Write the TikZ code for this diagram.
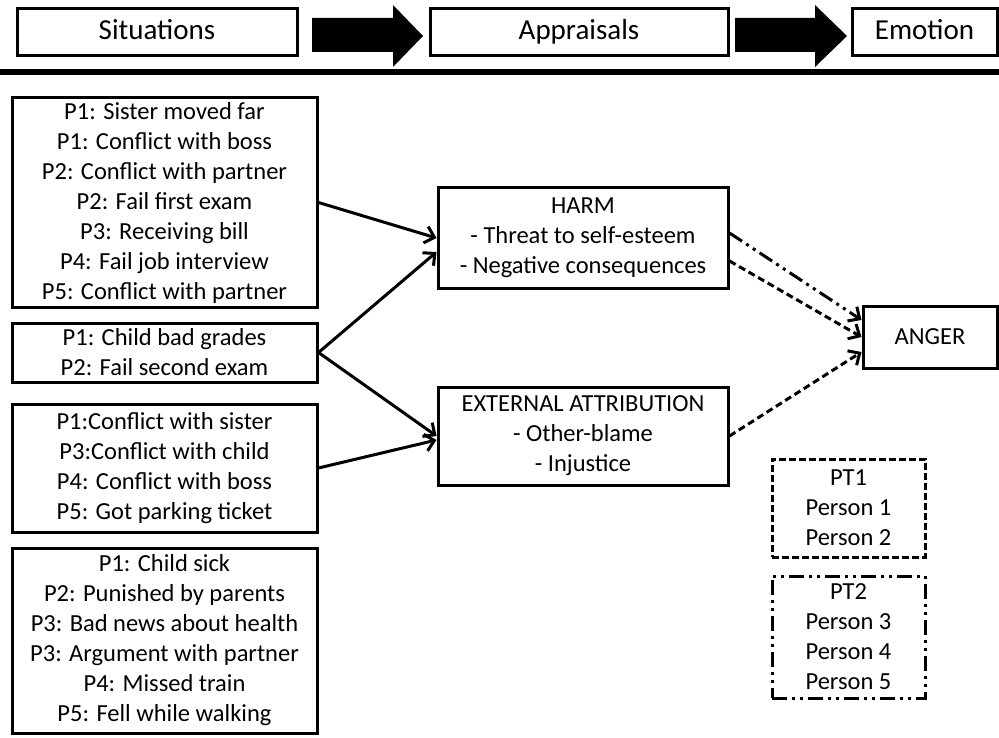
\documentclass[tikz,border=0pt]{standalone}
\usepackage{fontspec}
\setmainfont{Carlito}
\usetikzlibrary{arrows.meta}

\tikzset{
	box/.style = {draw, line width = 3pt, inner sep = 0pt, align = center, font = \fontsize{24.5}{30}\selectfont},
	headbox/.style = {draw, line width = 3pt, inner sep = 0pt, font = \fontsize{29}{34}\selectfont, text height = 22pt, text depth = 6pt},
	link/.style = {line width = 3pt, -{Straight Barb[length = 9pt, width = 17pt]}},
	dashlink/.style = {link, dash pattern = on 7pt off 4pt},
	dotlink/.style = {link, dash pattern = on 15pt off 5pt on 3pt off 5pt on 3pt off 5pt},
}

\begin{document}
\begin{tikzpicture}[x = 1pt, y = -1pt]
		\useasboundingbox (0,0) rectangle (999,738);

		% header row
		\node (sit) at (157,32) [headbox, minimum width = 280pt, minimum height = 47pt] {Situations};
		\node (appr) at (579,32) [headbox, minimum width = 298pt, minimum height = 47pt] {Appraisals};
		\node (emo) at (924.5,32) [headbox, minimum width = 145pt, minimum height = 47pt] {Emotion};
		\fill (312,18) -- (393,18) -- (393,5) -- (423,36) -- (393,67) -- (393,52) -- (312,52) -- cycle;
		\fill (735,18) -- (815,18) -- (815,5) -- (847,36) -- (815,67) -- (815,52) -- (735,52) -- cycle;
		\draw [line width = 6pt] (0,72) -- (999,72);

		% situations
		\node (s1) at (164.5,202.5) [box, minimum width = 305pt, minimum height = 209pt] {P1: Sister moved far\\ P1: Conflict with boss\\ P2: Conflict with partner\\ P2: Fail first exam\\ P3: Receiving bill\\ P4: Fail job interview\\ P5: Conflict with partner};
		\node (s2) at (164.5,352.5) [box, minimum width = 305pt, minimum height = 59pt] {P1: Child bad grades\\ P2: Fail second exam};
		\node (s3) at (164.5,468) [box, minimum width = 305pt, minimum height = 128pt] {P1:Conflict with sister\\ P3:Conflict with child\\ P4: Conflict with boss\\ P5: Got parking ticket};
		\node (s4) at (164.5,640.5) [box, minimum width = 305pt, minimum height = 185pt] {P1: Child sick\\ P2: Punished by parents\\ P3: Bad news about health\\ P3: Argument with partner\\ P4: Missed train\\ P5: Fell while walking};

		% appraisals
		\node (harm) at (583,238) [box, minimum width = 290pt, minimum height = 100pt] {HARM\\ - Threat to self-esteem\\ - Negative consequences};
		\node (ext) at (583,436) [box, minimum width = 290pt, minimum height = 98pt] {EXTERNAL ATTRIBUTION\\ - Other-blame\\ - Injustice};

		\draw [link] (s1.east) -- (harm.west);
		\draw [link] (s2.east) -- ([yshift = -14pt]harm.west);
		\draw [link] (s2.east) -- (ext.west);
		\draw [link] (s3.east) -- ([yshift = -4pt]ext.west);

		% emotion
		\node (anger) at (930,337) [box, minimum width = 134pt, minimum height = 62pt] {ANGER};

		\draw [dotlink] ([yshift = 5pt]harm.east) -- ([yshift = 17pt]anger.west);
		\draw [dashlink] ([yshift = -23pt]harm.east) -- (anger.west);
		\draw [dashlink] (ext.east) -- ([yshift = -15pt]anger.west);

		% legend
		\node (pt1) at (848.5,508) [box, minimum width = 153pt, minimum height = 98pt, dash pattern = on 7pt off 3pt] {PT1\\ Person 1\\ Person 2};
		\node (pt2) at (848.5,637) [box, minimum width = 153pt, minimum height = 122pt, dash pattern = on 15pt off 5pt on 3pt off 5pt on 3pt off 5pt] {PT2\\ Person 3\\ Person 4\\ Person 5};
\end{tikzpicture}
\end{document}
